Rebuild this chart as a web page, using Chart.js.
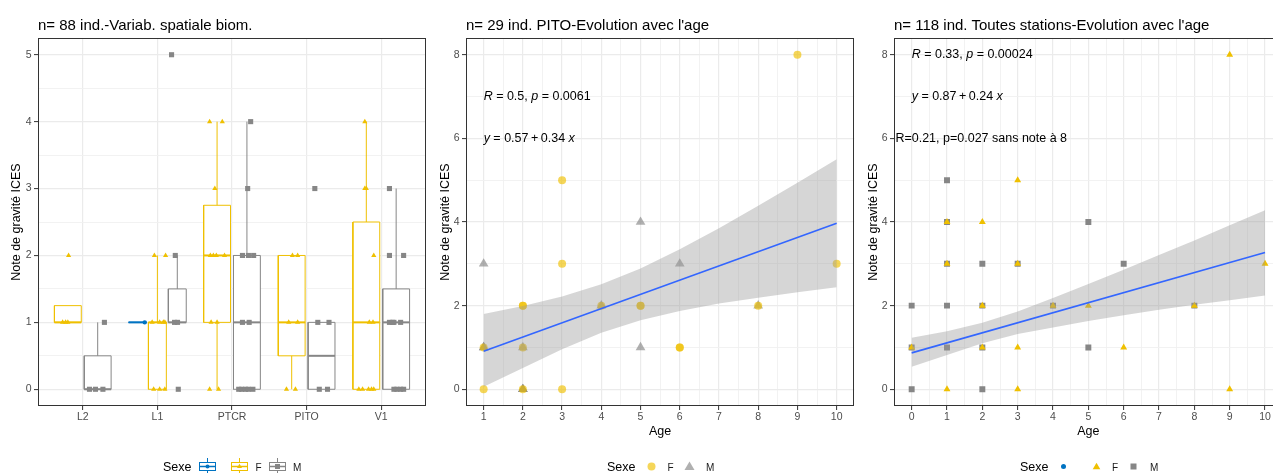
<!DOCTYPE html>
<html>
<head>
<meta charset="utf-8">
<script src="https://cdn.jsdelivr.net/npm/chart.js@4.4.1/dist/chart.umd.min.js"></script>
<style>
html,body{margin:0;padding:0;background:#fff;overflow:hidden;width:1273px;height:473px;}
#wrap{position:relative;width:1273px;height:473px;overflow:hidden;background:#fff;}
canvas{position:absolute;top:0;}
.t{position:absolute;font-family:"Liberation Sans",Arial,sans-serif;color:#000;white-space:nowrap;line-height:1;}
.title{font-size:15px;top:17px;}
.lgt{font-size:12.5px;top:461px;}
.lgl{font-size:10px;top:462.5px;color:#1a1a1a;}
.key{position:absolute;top:458px;}
</style>
</head>
<body>
<div id="wrap">
<canvas id="c1" width="430" height="473" style="left:0px"></canvas>
<canvas id="c2" width="430" height="473" style="left:430px"></canvas>
<canvas id="c3" width="430" height="473" style="left:860px"></canvas>

<div class="t title" style="left:38px">n= 88 ind.-Variab. spatiale biom.</div>
<div class="t title" style="left:466px">n= 29 ind. PITO-Evolution avec l'age</div>
<div class="t title" style="left:894px">n= 118 ind. Toutes stations-Evolution avec l'age</div>

<!-- legend panel 1 -->
<div class="t lgt" style="left:163px">Sexe</div>
<svg class="key" style="left:199px" width="17" height="17">
  <line x1="8.5" y1="0" x2="8.5" y2="17" stroke="#0073C2" stroke-width="1"/>
  <rect x="0.5" y="4.5" width="16" height="8" fill="#fff" stroke="#0073C2" stroke-width="1"/>
  <line x1="0.5" y1="8.5" x2="16.5" y2="8.5" stroke="#0073C2" stroke-width="1.5"/>
  <circle cx="8.5" cy="8.5" r="2" fill="#0073C2"/>
</svg>
<svg class="key" style="left:231px" width="17" height="17">
  <line x1="8.5" y1="0" x2="8.5" y2="17" stroke="#EFC000" stroke-width="1"/>
  <rect x="0.5" y="4.5" width="16" height="8" fill="#fff" stroke="#EFC000" stroke-width="1"/>
  <line x1="0.5" y1="8.5" x2="16.5" y2="8.5" stroke="#EFC000" stroke-width="1.5"/>
  <polygon points="8.5,5.8 11,10 6,10" fill="#EFC000"/>
</svg>
<div class="t lgl" style="left:255.5px">F</div>
<svg class="key" style="left:269px" width="17" height="17">
  <line x1="8.5" y1="0" x2="8.5" y2="17" stroke="#868686" stroke-width="1"/>
  <rect x="0.5" y="4.5" width="16" height="8" fill="#fff" stroke="#868686" stroke-width="1"/>
  <line x1="0.5" y1="8.5" x2="16.5" y2="8.5" stroke="#868686" stroke-width="1.5"/>
  <rect x="6" y="6" width="5" height="5" fill="#868686"/>
</svg>
<div class="t lgl" style="left:293px">M</div>

<!-- legend panel 2 -->
<div class="t lgt" style="left:607px">Sexe</div>
<svg class="key" style="left:642.5px" width="17" height="17"><circle cx="8.5" cy="8.5" r="4" fill="rgba(239,192,0,0.65)"/></svg>
<div class="t lgl" style="left:667.5px">F</div>
<svg class="key" style="left:681px" width="17" height="17"><polygon points="8.5,3.5 13.5,12 3.5,12" fill="rgba(134,134,134,0.65)"/></svg>
<div class="t lgl" style="left:706px">M</div>

<!-- legend panel 3 -->
<div class="t lgt" style="left:1020px">Sexe</div>
<svg class="key" style="left:1055px" width="17" height="17"><circle cx="8.5" cy="8.5" r="2.5" fill="#0073C2"/></svg>
<svg class="key" style="left:1087.5px" width="17" height="17"><polygon points="8.5,4.8 12.3,11.2 4.7,11.2" fill="#EFC000"/></svg>
<div class="t lgl" style="left:1112px">F</div>
<svg class="key" style="left:1125px" width="17" height="17"><rect x="5.5" y="5.5" width="6" height="6" fill="#868686"/></svg>
<div class="t lgl" style="left:1150px">M</div>
</div>

<script>
// ---------------- DATA ----------------
// Panel 1 : boxplots by station and sex
const boxCategories = ['L2', 'L1', 'PTCR', 'PITO', 'V1'];
const boxYTicks = [0, 1, 2, 3, 4, 5];
// box statistics per category: [lower whisker, Q1, median, Q3, upper whisker]; null = group absent
const boxNA = [null, [1, 1, 1, 1, 1], null, null, null];
const boxF  = [[1, 1, 1, 1.25, 1.25], [0, 0, 1, 1, 2], [0, 1, 2, 2.75, 4], [0, 0.5, 1, 2, 2], [0, 0, 1, 2.5, 4]];
const boxM  = [[0, 0, 0, 0.5, 1], [1, 1, 1, 1.5, 2], [0, 0, 1, 2, 4], [0, 0, 0.5, 1, 1], [0, 0, 1, 1.5, 3]];
// jittered observations: notes and horizontal jitter (category units) per category
const jitNA_note = [[], [1], [], [], []];
const jitNA_dx   = [[], [-0.17], [], [], []];
const jitF_note = [[1, 1, 1, 2], [2, 2, 1, 1, 1, 1, 0, 0, 0], [4, 4, 3, 2, 2, 2, 2, 1, 1, 0, 0], [2, 2, 1, 1, 0, 0], [4, 3, 3, 2, 1, 1, 0, 0, 0, 0, 0]];
const jitF_dx   = [[-0.27, -0.23, -0.20, -0.19], [-0.04, 0.11, -0.07, 0.03, 0.08, 0.10, -0.05, 0.03, 0.10],
                   [-0.30, -0.13, -0.23, -0.29, -0.25, -0.21, -0.10, -0.28, -0.20, -0.30, -0.18],
                   [-0.19, -0.12, -0.24, -0.12, -0.27, -0.15],
                   [-0.22, -0.22, -0.20, -0.10, -0.16, -0.11, -0.30, -0.25, -0.17, -0.13, -0.10]];
const jitM_note = [[0, 0, 0, 1], [5, 2, 1, 1, 0], [4, 3, 2, 2, 2, 1, 1, 0, 0, 0, 0, 0], [3, 1, 1, 0, 0], [3, 2, 2, 1, 1, 1, 1, 0, 0, 0, 0]];
const jitM_dx   = [[0.09, 0.17, 0.27, 0.29], [0.19, 0.24, 0.23, 0.27, 0.28],
                   [0.25, 0.21, 0.14, 0.22, 0.29, 0.14, 0.23, 0.09, 0.13, 0.18, 0.22, 0.28],
                   [0.11, 0.15, 0.30, 0.17, 0.28],
                   [0.11, 0.11, 0.30, 0.11, 0.15, 0.17, 0.26, 0.17, 0.21, 0.26, 0.30]];

// Panel 2 : PITO, note vs age
const pitoAgeTicks = [1, 2, 3, 4, 5, 6, 7, 8, 9, 10];
const noteTicks = [0, 2, 4, 6, 8];
const pitoF_age  = [1, 1, 2, 2, 2, 2, 3, 3, 3, 4, 5, 5, 6, 6, 8, 9, 10];
const pitoF_note = [0, 1, 0, 1, 2, 2, 0, 3, 5, 2, 2, 2, 1, 1, 2, 8, 3];
const pitoM_age  = [1, 1, 1, 2, 2, 2, 2, 4, 5, 5, 6, 8];
const pitoM_note = [1, 1, 3, 0, 0, 0, 1, 2, 1, 4, 3, 2];
const pitoFitAge  = [1, 10];
const pitoFitNote = [0.91, 3.97];
const pitoBandAge  = [1, 2, 3, 4, 5, 6, 7, 8, 9, 10];
const pitoBandLow  = [0.06, 0.51, 0.96, 1.35, 1.65, 1.87, 2.05, 2.19, 2.32, 2.44];
const pitoBandHigh = [1.80, 1.99, 2.22, 2.51, 2.89, 3.35, 3.85, 4.39, 4.94, 5.50];

// Panel 3 : all stations, note vs age
const allAgeTicks = [0, 1, 2, 3, 4, 5, 6, 7, 8, 9, 10];
const allF_age  = [0, 1, 1, 1, 2, 2, 2, 3, 3, 3, 3, 4, 5, 6, 8, 9, 9, 10];
const allF_note = [1, 0, 3, 4, 1, 2, 4, 0, 1, 3, 5, 2, 2, 1, 2, 0, 8, 3];
const allM_age  = [0, 0, 0, 1, 1, 1, 1, 1, 2, 2, 2, 2, 3, 4, 5, 5, 6, 8];
const allM_note = [0, 1, 2, 1, 2, 3, 4, 5, 0, 1, 2, 3, 3, 2, 1, 4, 3, 2];
const allFitAge  = [0, 10];
const allFitNote = [0.87, 3.27];
const allBandAge  = [0, 1, 2, 3, 4, 5, 6, 7, 8, 9, 10];
const allBandLow  = [0.54, 0.82, 1.10, 1.32, 1.48, 1.63, 1.77, 1.90, 2.02, 2.13, 2.24];
const allBandHigh = [1.23, 1.39, 1.59, 1.86, 2.18, 2.52, 2.86, 3.21, 3.56, 3.92, 4.28];

// ---------------- STYLE / HELPERS ----------------
const YEL = '#EFC000', GRY = '#868686', BLU = '#0073C2';
const YEL_A = 'rgba(239,192,0,0.65)', GRY_A = 'rgba(134,134,134,0.65)';
const FONT = '"Liberation Sans", Arial, sans-serif';
Chart.defaults.font.family = FONT;
Chart.defaults.color = '#4D4D4D';

function midpoints(a) { const m = []; for (let i = 0; i < a.length - 1; i++) m.push((a[i] + a[i + 1]) / 2); return m; }
function pts(xs, ys) { return xs.map((x, i) => ({ x: x, y: ys[i] })); }

function gridOpts(majorSet) {
  const isM = c => c.tick && majorSet.has(c.tick.value);
  return {
    drawTicks: true, tickLength: 4, tickWidth: 1,
    color: c => isM(c) ? '#EBEBEB' : '#F0F0F0',
    lineWidth: c => isM(c) ? 1.2 : 0.9,
    tickColor: c => isM(c) ? '#333333' : 'rgba(0,0,0,0)'
  };
}
function xAxis(min, max, major, minor, labelFn, title) {
  const ms = new Set(major);
  return {
    type: 'linear', min: min, max: max,
    afterBuildTicks(s) { s.ticks = major.concat(minor).sort((a, b) => a - b).map(v => ({ value: v })); },
    ticks: { autoSkip: false, maxRotation: 0, minRotation: 0, padding: 1, color: '#4D4D4D', font: { size: 10.5 },
             callback: v => ms.has(v) ? labelFn(v) : '' },
    grid: gridOpts(ms),
    border: { display: false },
    title: title ? { display: true, text: title, color: '#000', font: { size: 12.5 }, padding: { top: 0, bottom: 33.8 } } : { display: false },
    afterFit(s) { s.height = 67; s.paddingLeft = 0; s.paddingRight = 0; }
  };
}
function yAxis(min, max, major, minor, width, titlePad) {
  const ms = new Set(major);
  return {
    type: 'linear', min: min, max: max,
    afterBuildTicks(s) { s.ticks = major.concat(minor).sort((a, b) => a - b).map(v => ({ value: v })); },
    ticks: { autoSkip: false, padding: 2.5, color: '#4D4D4D', font: { size: 10.5 },
             callback: v => ms.has(v) ? String(v) : '' },
    grid: gridOpts(ms),
    border: { display: false },
    title: { display: true, text: 'Note de gravité ICES', color: '#000', font: { size: 12.5 }, padding: { top: titlePad, bottom: 0 } },
    afterFit(s) { s.width = width; s.paddingTop = 0; s.paddingBottom = 0; }
  };
}

const panelBorder = {
  id: 'panelBorder',
  afterDatasetsDraw(chart) {
    const { ctx, chartArea: a } = chart;
    ctx.save();
    ctx.strokeStyle = '#333333'; ctx.lineWidth = 1;
    ctx.strokeRect(Math.round(a.left) + 0.5, Math.round(a.top) + 0.5, Math.round(a.right - a.left) - 1, Math.round(a.bottom - a.top) - 1);
    ctx.restore();
  }
};
const annot = {
  id: 'annot',
  afterDatasetsDraw(chart, args, opts) {
    const items = (opts && opts.items) || [];
    const { ctx } = chart; const xs = chart.scales.x, ys = chart.scales.y;
    ctx.save(); ctx.textBaseline = 'middle'; ctx.fillStyle = '#000';
    items.forEach(it => {
      let px = xs.getPixelForValue(it.x); const py = ys.getPixelForValue(it.y);
      it.parts.forEach(p => {
        ctx.font = (p[1] ? 'italic ' : '') + '12.5px ' + FONT;
        ctx.fillText(p[0], px, py);
        px += ctx.measureText(p[0]).width;
      });
    });
    ctx.restore();
  }
};

const baseOpts = (scales, padRight, annItems) => ({
  responsive: false, animation: false, devicePixelRatio: 1, events: [],
  layout: { padding: { left: 0, right: padRight, top: 38, bottom: 0 } },
  plugins: { legend: { display: false }, tooltip: { enabled: false }, title: { display: false }, annot: { items: annItems } },
  scales: scales
});

// ---------------- PANEL 1 ----------------
(function () {
  const ds = [];
  const groups = [
    { stats: boxNA, col: BLU, note: jitNA_note, dx: jitNA_dx, style: 'circle', r: 2.2 },
    { stats: boxF, col: YEL, note: jitF_note, dx: jitF_dx, style: 'triangle', r: 3 },
    { stats: boxM, col: GRY, note: jitM_note, dx: jitM_dx, style: 'rect', r: 3.6 }
  ];
  boxCategories.forEach((cat, i) => {
    const present = groups.filter(g => g.stats[i]);
    const n = present.length;
    const slot = 0.8 / n;
    const w = slot * 0.9 / 2;
    present.forEach((g, k) => {
      const c = i + 1 + (k - (n - 1) / 2) * slot;
      const s = g.stats[i];
      const line = { showLine: true, pointRadius: 0, borderColor: g.col, borderWidth: 1, fill: false };
      ds.push(Object.assign({}, line, { data: [{ x: c - w, y: s[1] }, { x: c + w, y: s[1] }, { x: c + w, y: s[3] }, { x: c - w, y: s[3] }, { x: c - w, y: s[1] }],
        backgroundColor: '#ffffff', fill: 'shape', order: 6 }));
      ds.push(Object.assign({}, line, { data: [{ x: c, y: s[0] }, { x: c, y: s[1] }], order: 5 }));
      ds.push(Object.assign({}, line, { data: [{ x: c, y: s[3] }, { x: c, y: s[4] }], order: 5 }));
      ds.push(Object.assign({}, line, { data: [{ x: c - w, y: s[2] }, { x: c + w, y: s[2] }], borderWidth: 2, order: 4 }));
    });
  });
  groups.forEach(g => {
    const data = [];
    boxCategories.forEach((cat, i) => g.note[i].forEach((v, j) => data.push({ x: i + 1 + g.dx[i][j], y: v })));
    ds.push({ data: data, pointStyle: g.style, pointRadius: g.r, pointBackgroundColor: g.col, pointBorderWidth: 0, pointBorderColor: g.col, showLine: false, order: 1 });
  });
  new Chart(document.getElementById('c1'), {
    type: 'scatter',
    data: { datasets: ds },
    options: baseOpts({
      x: xAxis(0.4, 5.6, [1, 2, 3, 4, 5], [], v => boxCategories[Math.round(v) - 1], null),
      y: yAxis(-0.25, 5.25, boxYTicks, midpoints(boxYTicks), 38, 9.2)
    }, 4, []),
    plugins: [panelBorder, annot]
  });
})();

// ---------------- PANELS 2 & 3 ----------------
function regChart(id, cfg) {
  const ds = [
    { data: pts(cfg.mAge, cfg.mNote), pointStyle: cfg.mStyle, pointRadius: cfg.mR, pointBackgroundColor: cfg.mCol, pointBorderWidth: 0, showLine: false, order: 4 },
    { data: pts(cfg.fAge, cfg.fNote), pointStyle: cfg.fStyle, pointRadius: cfg.fR, pointBackgroundColor: cfg.fCol, pointBorderWidth: 0, showLine: false, order: 3 },
    { data: pts(cfg.bandAge, cfg.bandLow), showLine: true, pointRadius: 0, borderWidth: 0, borderColor: 'rgba(0,0,0,0)', fill: false, order: 2 },
    { data: pts(cfg.bandAge, cfg.bandHigh), showLine: true, pointRadius: 0, borderWidth: 0, borderColor: 'rgba(0,0,0,0)', backgroundColor: 'rgba(153,153,153,0.4)', fill: '-1', order: 2 },
    { data: pts(cfg.fitAge, cfg.fitNote), showLine: true, pointRadius: 0, borderColor: '#3366FF', borderWidth: 1.6, fill: false, order: 1 }
  ];
  new Chart(document.getElementById(id), {
    type: 'scatter',
    data: { datasets: ds },
    options: baseOpts({
      x: xAxis(cfg.xmin, cfg.xmax, cfg.xTicks, midpoints(cfg.xTicks), v => String(v), 'Age'),
      y: yAxis(-0.4, 8.4, noteTicks, midpoints(noteTicks), cfg.yWidth, cfg.titlePad)
    }, cfg.padRight, cfg.ann),
    plugins: [panelBorder, annot]
  });
}

regChart('c2', {
  fAge: pitoF_age, fNote: pitoF_note, fStyle: 'circle', fR: 4, fCol: YEL_A,
  mAge: pitoM_age, mNote: pitoM_note, mStyle: 'triangle', mR: 5.6, mCol: GRY_A,
  bandAge: pitoBandAge, bandLow: pitoBandLow, bandHigh: pitoBandHigh,
  fitAge: pitoFitAge, fitNote: pitoFitNote,
  xmin: 0.55, xmax: 10.45, xTicks: pitoAgeTicks, yWidth: 36, titlePad: 7.8, padRight: 5.7,
  ann: [
    { x: 1, y: 7, parts: [['R', true], [' = 0.5, ', false], ['p', true], [' = 0.0061', false]] },
    { x: 1, y: 6, parts: [['y', true], [' = 0.57\u2009+\u20090.34 ', false], ['x', true]] }
  ]
});

regChart('c3', {
  fAge: allF_age, fNote: allF_note, fStyle: 'triangle', fR: 4, fCol: YEL,
  mAge: allM_age, mNote: allM_note, mStyle: 'rect', mR: 4.2, mCol: GRY,
  bandAge: allBandAge, bandLow: allBandLow, bandHigh: allBandHigh,
  fitAge: allFitAge, fitNote: allFitNote,
  xmin: -0.5, xmax: 10.5, xTicks: allAgeTicks, yWidth: 34, titlePad: 6.2, padRight: 7.3,
  ann: [
    { x: 0, y: 8, parts: [['R', true], [' = 0.33, ', false], ['p', true], [' = 0.00024', false]] },
    { x: 0, y: 7, parts: [['y', true], [' = 0.87\u2009+\u20090.24 ', false], ['x', true]] },
    { x: -0.46, y: 6, parts: [['R=0.21, p=0.027 sans note à 8', false]] }
  ]
});
</script>
</body>
</html>
